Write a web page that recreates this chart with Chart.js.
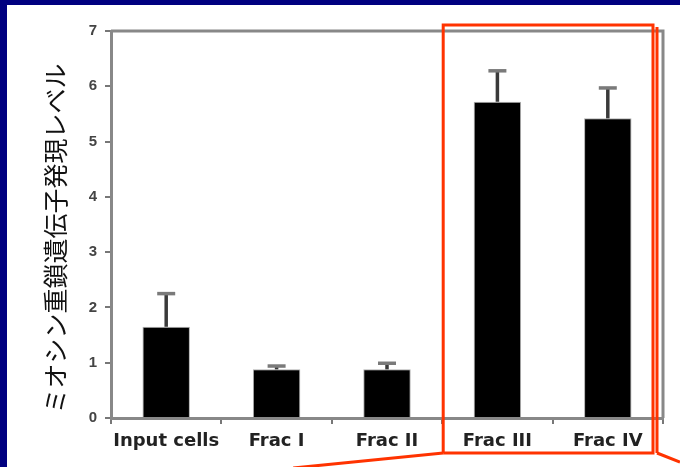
<!DOCTYPE html>
<html>
<head>
<meta charset="utf-8">
<script src="https://cdn.jsdelivr.net/npm/chart.js@4"></script>
<style>
  html, body { margin: 0; padding: 0; background: #ffffff; }
  #wrap { width: 680px; height: 467px; position: relative; }
</style>
</head>
<body>
<div id="wrap"><canvas id="myosin" width="680" height="467"></canvas></div>
<script>
// data
const categories = ["Input cells", "Frac I", "Frac II", "Frac III", "Frac IV"];
const expression = [1.65, 0.88, 0.88, 5.72, 5.42];
const errorUp = [0.6, 0.06, 0.11, 0.56, 0.55];
const yTicks = [0, 1, 2, 3, 4, 5, 6, 7];
const yTitle = "ミオシン重鎖遺伝子発現レベル";
const highlighted = [3, 4]; // Frac III, Frac IV

const navy = "#000080";
const red = "#ff3300";

// navy slide frame + plot box top/right lines + y title
const framePlugin = {
  id: "frame",
  beforeDraw(chart) {
    const ctx = chart.ctx;
    ctx.save();
    ctx.fillStyle = "#ffffff";
    ctx.fillRect(0, 0, chart.width, chart.height);
    ctx.fillStyle = navy;
    ctx.fillRect(0, 0, chart.width, 5);
    ctx.fillRect(0, 0, 7, chart.height);
    ctx.restore();
  },
  afterDraw(chart) {
    const ctx = chart.ctx;
    const a = chart.chartArea;
    ctx.save();
    ctx.strokeStyle = "#888888";
    ctx.lineWidth = 3;
    ctx.beginPath();
    ctx.moveTo(a.left, a.top);
    ctx.lineTo(a.right, a.top);
    ctx.lineTo(a.right, a.bottom);
    ctx.stroke();
    // y axis title, sits a little below the plot middle in the original
    ctx.translate(55, (a.top + a.bottom) / 2 + 14);
    ctx.rotate(-Math.PI / 2);
    ctx.fillStyle = "#111111";
    ctx.font = "25px 'Noto Sans CJK JP'";
    ctx.textAlign = "center";
    ctx.textBaseline = "middle";
    ctx.fillText(yTitle, 0, 0);
    ctx.restore();
  }
};

// one-sided error bars
const errorPlugin = {
  id: "errbars",
  afterDatasetsDraw(chart) {
    const ctx = chart.ctx;
    const y = chart.scales.y;
    const meta = chart.getDatasetMeta(0);
    ctx.save();
    meta.data.forEach((bar, i) => {
      const top = y.getPixelForValue(expression[i] + errorUp[i]);
      ctx.strokeStyle = "#3a3a3a";
      ctx.lineWidth = 3.5;
      ctx.beginPath();
      ctx.moveTo(bar.x, bar.y);
      ctx.lineTo(bar.x, top);
      ctx.stroke();
      ctx.strokeStyle = "#7a7a7a";
      ctx.lineWidth = 3.5;
      ctx.beginPath();
      ctx.moveTo(bar.x - 9, top);
      ctx.lineTo(bar.x + 9, top);
      ctx.stroke();
    });
    ctx.restore();
  }
};

// red highlight box around Frac III / IV
const highlightPlugin = {
  id: "highlight",
  afterDraw(chart) {
    const ctx = chart.ctx;
    const x = chart.scales.x;
    const a = chart.chartArea;
    const half = (x.getPixelForValue(1) - x.getPixelForValue(0)) / 2;
    const left = x.getPixelForValue(highlighted[0]) - half + 1;
    const right = x.getPixelForValue(highlighted[1]) + half - 10;
    const top = a.top - 6;
    const bottom = a.bottom + 35;
    ctx.save();
    ctx.strokeStyle = red;
    ctx.lineWidth = 3;
    ctx.beginPath();
    ctx.moveTo(left, bottom);
    ctx.lineTo(left, top);
    ctx.lineTo(right, top);
    ctx.lineTo(right, bottom);
    ctx.lineTo(left, bottom);
    ctx.stroke();
    ctx.beginPath();
    ctx.moveTo(right + 4, top + 2);
    ctx.lineTo(right + 4, bottom);
    ctx.stroke();
    // zoom lines
    ctx.beginPath();
    ctx.moveTo(left, bottom);
    ctx.lineTo(left - 150, chart.height + 1);
    ctx.moveTo(right + 4, bottom);
    ctx.lineTo(chart.width, bottom + 9);
    ctx.stroke();
    ctx.restore();
  }
};

new Chart(document.getElementById("myosin"), {
  type: "bar",
  data: {
    labels: categories,
    datasets: [{
      data: expression,
      backgroundColor: "#000000",
      borderColor: "#b0b0b0",
      borderWidth: 1,
      barPercentage: 0.43,
      categoryPercentage: 1.0
    }]
  },
  options: {
    responsive: false,
    animation: false,
    layout: { padding: { left: 7, top: 31, right: 17, bottom: 0 } },
    plugins: { legend: { display: false }, tooltip: { enabled: false } },
    scales: {
      x: {
        afterFit(scale) { scale.height = 49; },
        grid: { drawOnChartArea: false, drawTicks: true, tickLength: 6, color: "#777777", lineWidth: 2 },
        border: { color: "#888888", width: 3 },
        ticks: {
          color: "#222222",
          padding: 7,
          maxRotation: 0,
          minRotation: 0,
          autoSkip: false,
          font: { family: "DejaVu Sans", size: 18, weight: "bold" }
        }
      },
      y: {
        min: 0,
        max: 7,
        afterBuildTicks(scale) { scale.ticks = yTicks.map(v => ({ value: v })); },
        afterFit(scale) { scale.width = 104; },
        grid: { drawOnChartArea: false, drawTicks: true, tickLength: 6, color: "#777777", lineWidth: 2 },
        border: { color: "#888888", width: 3 },
        ticks: {
          color: "#444444",
          padding: 8,
          font: { family: "Liberation Sans", size: 15, weight: "bold" }
        },
        title: { display: false }
      }
    }
  },
  plugins: [framePlugin, errorPlugin, highlightPlugin]
});
</script>
</body>
</html>
